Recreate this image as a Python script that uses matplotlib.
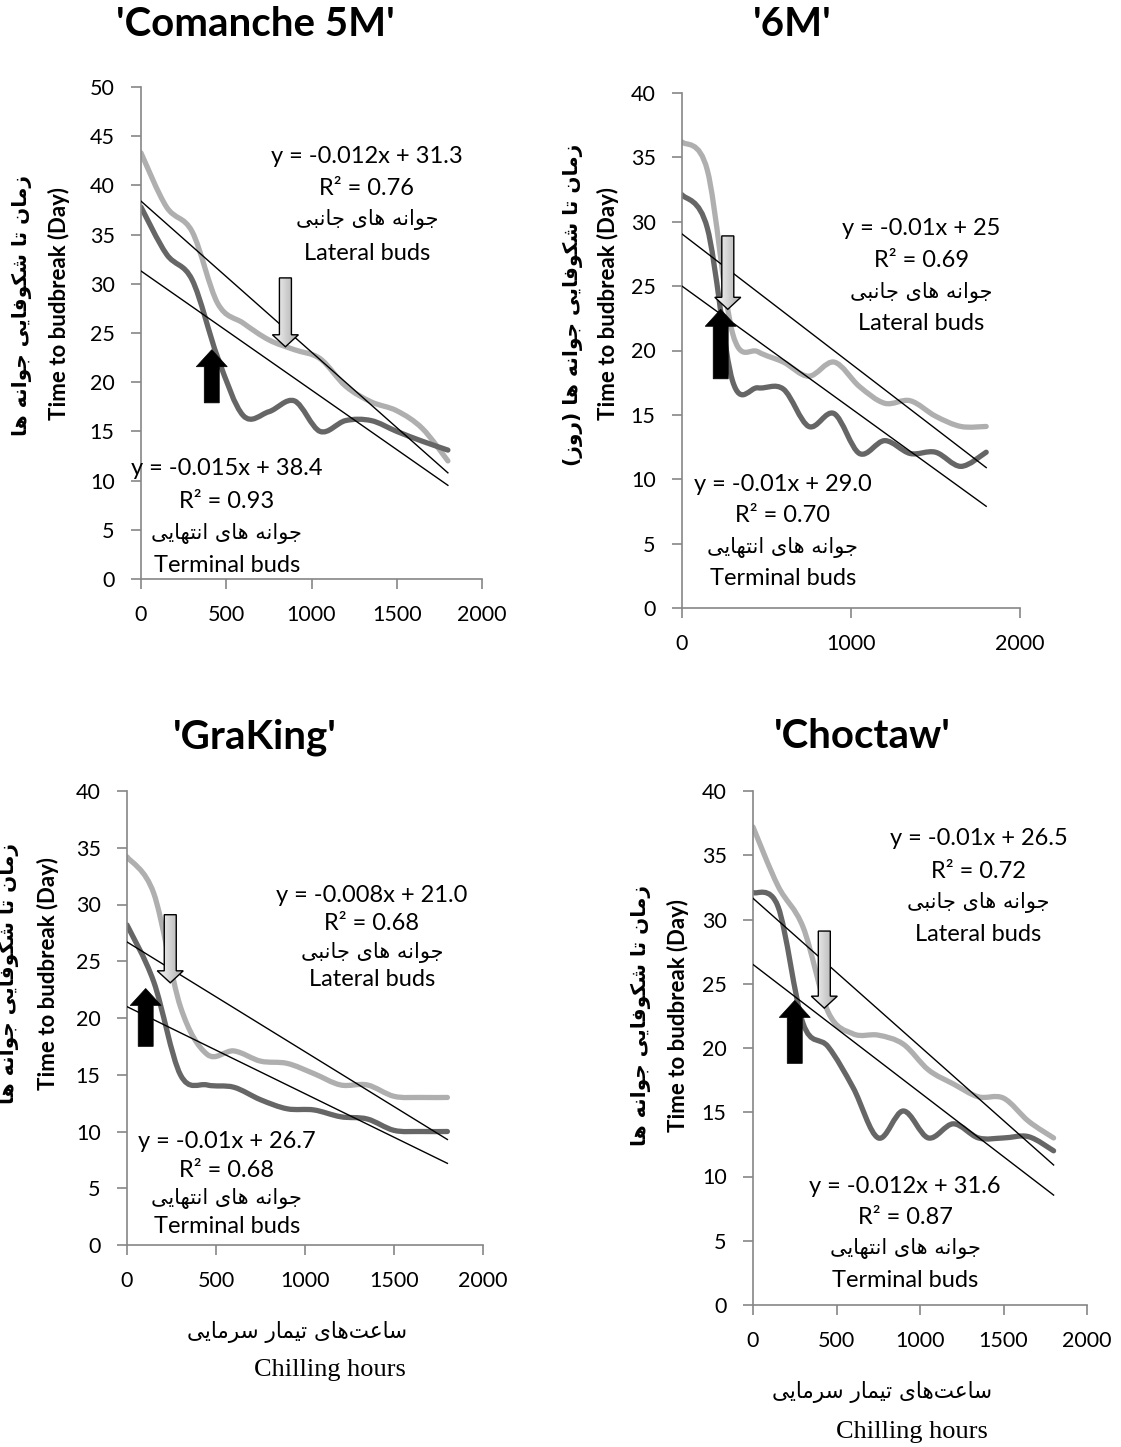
import numpy as np
import matplotlib
matplotlib.use("Agg")
import matplotlib.pyplot as plt
from matplotlib.path import Path
from matplotlib.patches import PathPatch, Polygon
from matplotlib.colors import LinearSegmentedColormap

plt.rcParams['font.family'] = ['Lato', 'DejaVu Sans']

W, H = 1121, 1447

# chilling hours (x) shared by every cultivar
hours = [0, 150, 300, 450, 600, 750, 900, 1050, 1200, 1350, 1500, 1650, 1800]

titles = ["'Comanche 5M'", "'6M'", "'GraKing'", "'Choctaw'"]

# days to budbreak, lateral buds (light line)
lateral_5m = [43.3, 37.8, 35.3, 28.0, 26.0, 24.3, 23.3, 22.4, 19.6, 18.0, 17.1, 15.3, 12.0]
lateral_6m = [36.2, 34.0, 21.3, 19.9, 19.1, 18.0, 19.1, 17.2, 15.9, 16.1, 14.9, 14.1, 14.1]
lateral_graking = [34.2, 31.0, 21.0, 16.8, 17.1, 16.2, 16.0, 15.1, 14.1, 14.1, 13.1, 13.0, 13.0]
lateral_choctaw = [37.2, 32.6, 29.4, 22.8, 21.1, 21.0, 20.3, 18.3, 17.2, 16.2, 16.1, 14.3, 13.0]

# days to budbreak, terminal buds (dark line)
terminal_5m = [37.8, 33.0, 30.4, 22.5, 16.6, 17.0, 18.1, 15.0, 16.1, 16.1, 15.0, 14.0, 13.1]
terminal_6m = [32.1, 29.5, 17.6, 17.1, 17.0, 14.1, 15.1, 12.0, 13.0, 12.0, 12.1, 11.0, 12.1]
terminal_graking = [28.2, 23.2, 15.0, 14.1, 13.9, 12.8, 12.0, 11.9, 11.3, 11.1, 10.1, 10.0, 10.0]
terminal_choctaw = [32.1, 31.0, 21.9, 20.1, 16.9, 13.0, 15.1, 13.0, 14.1, 13.0, 13.0, 13.1, 12.0]

lateral = [lateral_5m, lateral_6m, lateral_graking, lateral_choctaw]
terminal = [terminal_5m, terminal_6m, terminal_graking, terminal_choctaw]

# trend lines as drawn (intercept, slope)
fit_lateral = [(31.3, -0.0121), (25.0, -0.0095), (21.0, -0.00767), (26.5, -0.00997)]
fit_terminal = [(38.4, -0.01534), (29.05, -0.01008), (26.7, -0.00967), (31.65, -0.01153)]

eq_lateral = ["y = -0.012x + 31.3", "y = -0.01x + 25", "y = -0.008x + 21.0", "y = -0.01x + 26.5"]
r2_lateral = ["R² = 0.76", "R² = 0.69", "R² = 0.68", "R² = 0.72"]
eq_terminal = ["y = -0.015x + 38.4", "y = -0.01x + 29.0", "y = -0.01x + 26.7", "y = -0.012x + 31.6"]
r2_terminal = ["R² = 0.93", "R² = 0.70", "R² = 0.68", "R² = 0.87"]

y_max = [50, 40, 40, 40]
x_ticks = [[0, 500, 1000, 1500, 2000], [0, 1000, 2000],
           [0, 500, 1000, 1500, 2000], [0, 500, 1000, 1500, 2000]]

fa_ylabel = 'زمان تا شکوفایی جوانه ها'
fa_ylabel_6m = 'زمان تا شکوفایی جوانه ها (روز)'
fa_lateral = 'جوانه های جانبی'
fa_terminal = 'جوانه های انتهایی'
fa_xlabel = 'ساعت\u200cهای تیمار سرمایی'

# --- layout (pixels of the 1121x1447 figure) ---
boxes = [(141, 482, 87, 579), (682, 1020, 93, 608), (127, 483, 791, 1245), (753, 1087, 791, 1305)]
title_pos = [(255, 24), (792, 24), (255, 737), (862, 737)]
ylab_pos = [(59, 303), (608, 303), (48, 973), (678, 1015)]
fa_ylab_pos = [(22, 305), (573, 305), (9, 973), (641, 1015)]
lat_text = [(1325, [42.9, 39.7, 36.5, 33.1]), (1417, [29.5, 27.0, 24.5, 22.1]),
            (1376, [30.8, 28.3, 25.8, 23.4]), (1350, [36.3, 33.7, 31.3, 28.8])]
ter_text = [(503, [11.2, 7.9, 4.6, 1.4]), (597, [9.6, 7.2, 4.7, 2.3]),
            (560, [9.1, 6.6, 4.1, 1.6]), (910, [9.2, 6.8, 4.4, 1.9])]
# arrows: (x, tail, tip)
light_arrow = [(847, 30.6, 23.6), (271, 28.9, 23.2), (243, 29.1, 23.1), (427, 29.1, 23.1)]
dark_arrow = [(415, 17.9, 23.3), (229, 17.8, 23.2), (105, 17.5, 22.6), (250, 18.8, 23.7)]

FORMS = {
    'ا': ('\uFE8D', '\uFE8E', None, None),
    'ب': ('\uFE8F', '\uFE90', '\uFE91', '\uFE92'),
    'ت': ('\uFE95', '\uFE96', '\uFE97', '\uFE98'),
    'ج': ('\uFE9D', '\uFE9E', '\uFE9F', '\uFEA0'),
    'ر': ('\uFEAD', '\uFEAE', None, None),
    'ز': ('\uFEAF', '\uFEB0', None, None),
    'س': ('\uFEB1', '\uFEB2', '\uFEB3', '\uFEB4'),
    'ش': ('\uFEB5', '\uFEB6', '\uFEB7', '\uFEB8'),
    'ع': ('\uFEC9', '\uFECA', '\uFECB', '\uFECC'),
    'ف': ('\uFED1', '\uFED2', '\uFED3', '\uFED4'),
    'ک': ('\uFED9', '\uFEDA', '\uFEDB', '\uFEDC'),
    'م': ('\uFEE1', '\uFEE2', '\uFEE3', '\uFEE4'),
    'ن': ('\uFEE5', '\uFEE6', '\uFEE7', '\uFEE8'),
    'ه': ('\uFEE9', '\uFEEA', '\uFEEB', '\uFEEC'),
    'و': ('\uFEED', '\uFEEE', None, None),
    'ی': ('\uFEEF', '\uFEF0', '\uFEF3', '\uFEF4'),
}


def farsi(s):
    # shape letters and put them in visual (left to right) order
    out = []
    for i, ch in enumerate(s):
        if ch not in FORMS:
            out.append(ch)
            continue
        prev = s[i - 1] if i > 0 else ''
        nxt = s[i + 1] if i + 1 < len(s) else ''
        jp = prev in FORMS and FORMS[prev][2] is not None
        jn = FORMS[ch][2] is not None and nxt in FORMS
        iso, fin, ini, med = FORMS[ch]
        if jp and jn:
            out.append(med)
        elif jp:
            out.append(fin)
        elif jn:
            out.append(ini)
        else:
            out.append(iso)
    out = [c for c in out if c != '\u200c']
    return ''.join(reversed(out)).translate(str.maketrans('()', ')('))


def is_fa(txt):
    return any(ord(c) > 0x5FF for c in txt)


def smooth_path(x, y):
    verts = [(x[0], y[0])]
    codes = [Path.MOVETO]
    n = len(x)
    for i in range(n - 1):
        xa, ya = (x[i - 1], y[i - 1]) if i > 0 else (x[i], y[i])
        xd, yd = (x[i + 2], y[i + 2]) if i + 2 < n else (x[i + 1], y[i + 1])
        c1 = (x[i] + (x[i + 1] - xa) / 6, y[i] + (y[i + 1] - ya) / 6)
        c2 = (x[i + 1] - (xd - x[i]) / 6, y[i + 1] - (yd - y[i]) / 6)
        verts += [c1, c2, (x[i + 1], y[i + 1])]
        codes += [Path.CURVE4] * 3
    return Path(verts, codes)


def block_arrow(ax, x, y_tail, y_tip, shaft_px, head_px, headlen_px, **kw):
    p0 = ax.transData.transform((0, 0))
    p1 = ax.transData.transform((1000, 10))
    sx = (p1[0] - p0[0]) / 1000
    sy = (p1[1] - p0[1]) / 10
    hw = shaft_px / 2 / sx
    hh = head_px / 2 / sx
    s = np.sign(y_tip - y_tail)
    yb = y_tip - s * headlen_px / sy
    verts = [(x - hw, y_tail), (x - hw, yb), (x - hh, yb), (x, y_tip),
             (x + hh, yb), (x + hw, yb), (x + hw, y_tail)]
    poly = Polygon(verts, closed=True, **kw)
    ax.add_patch(poly)
    return poly, [x - hh, x + hh, min(y_tail, y_tip), max(y_tail, y_tip)]


def fx(px):
    return px / W


def fy(py):
    return 1 - py / H


fig = plt.figure(figsize=(W / 100, H / 100), dpi=100)
grad = LinearSegmentedColormap.from_list('arrowfill', ['#fbfbfb', '#acacac'])
LIGHT = '#afafaf'
DARK = '#666666'
AXC = '#868686'

for k in range(4):
    l, r, t, b = boxes[k]
    ax = fig.add_axes([fx(l), fy(b), (r - l) / W, (b - t) / H])
    ax.set_xlim(0, 2000)
    ax.set_ylim(0, y_max[k])
    ax.set_xticks(x_ticks[k])
    ax.set_yticks(np.arange(0, y_max[k] + 1, 5))
    for sp in ['top', 'right']:
        ax.spines[sp].set_visible(False)
    for sp in ['left', 'bottom']:
        ax.spines[sp].set_color(AXC)
        ax.spines[sp].set_linewidth(1.2)
    ax.tick_params(direction='out', length=7, width=1.2, color=AXC, labelsize=15.5, pad=12)

    ax.add_patch(PathPatch(smooth_path(hours, lateral[k]), fill=False, ec=LIGHT, lw=3.8,
                           capstyle='round', joinstyle='round', zorder=2))
    ax.add_patch(PathPatch(smooth_path(hours, terminal[k]), fill=False, ec=DARK, lw=3.8,
                           capstyle='round', joinstyle='round', zorder=2))

    xs = np.array([hours[0], hours[-1]])
    for a, m in (fit_lateral[k], fit_terminal[k]):
        ax.plot(xs, a + m * xs, color='black', lw=1.0, zorder=3)

    blocks = [(lat_text[k], [eq_lateral[k], r2_lateral[k], farsi(fa_lateral), 'Lateral buds']),
              (ter_text[k], [eq_terminal[k], r2_terminal[k], farsi(fa_terminal), 'Terminal buds'])]
    for (x0, ys), texts in blocks:
        for txt, yy in zip(texts, ys):
            if is_fa(txt):
                ax.text(x0, yy, txt, ha='center', va='center', fontsize=15,
                        family=['DejaVu Sans'], zorder=6, clip_on=False)
            else:
                ax.text(x0, yy, txt, ha='center', va='center', fontsize=17,
                        zorder=6, clip_on=False)

    xa, ta, ha_ = light_arrow[k]
    poly, ext = block_arrow(ax, xa, ta, ha_, 12, 26, 12, fc='none', ec='black', lw=1.0, zorder=8)
    im = ax.imshow(np.linspace(0, 1, 64)[None, :], cmap=grad, extent=ext, aspect='auto',
                   interpolation='bilinear', zorder=7)
    im.set_clip_path(poly)
    xa, ta, ha_ = dark_arrow[k]
    block_arrow(ax, xa, ta, ha_, 15, 31, 17, fc='black', ec='black', lw=0.5, zorder=8)
    ax.set_xlim(0, 2000)
    ax.set_ylim(0, y_max[k])

    tx, ty = title_pos[k]
    fig.text(fx(tx), fy(ty), titles[k], ha='center', va='center', fontsize=29, fontweight='bold')
    bx, by = ylab_pos[k]
    fig.text(fx(bx), fy(by), 'Time to budbreak (Day)', rotation=90, ha='center', va='center',
             fontsize=16, fontweight='bold')
    px_, py_ = fa_ylab_pos[k]
    fig.text(fx(px_), fy(py_), farsi(fa_ylabel_6m if k == 1 else fa_ylabel), rotation=90,
             ha='center', va='center', fontsize=14.5, fontweight='bold', family=['DejaVu Sans'])

for (pxp, pyp), (cx, cy) in [((297, 1332), (330, 1370)), ((882, 1392), (912, 1432))]:
    fig.text(fx(pxp), fy(pyp), farsi(fa_xlabel), ha='center', va='center', fontsize=15.5,
             family=['DejaVu Sans'])
    fig.text(fx(cx), fy(cy), 'Chilling hours', ha='center', va='center', fontsize=19,
             family=['Liberation Serif'])

fig.savefig('out.png', dpi=100)
